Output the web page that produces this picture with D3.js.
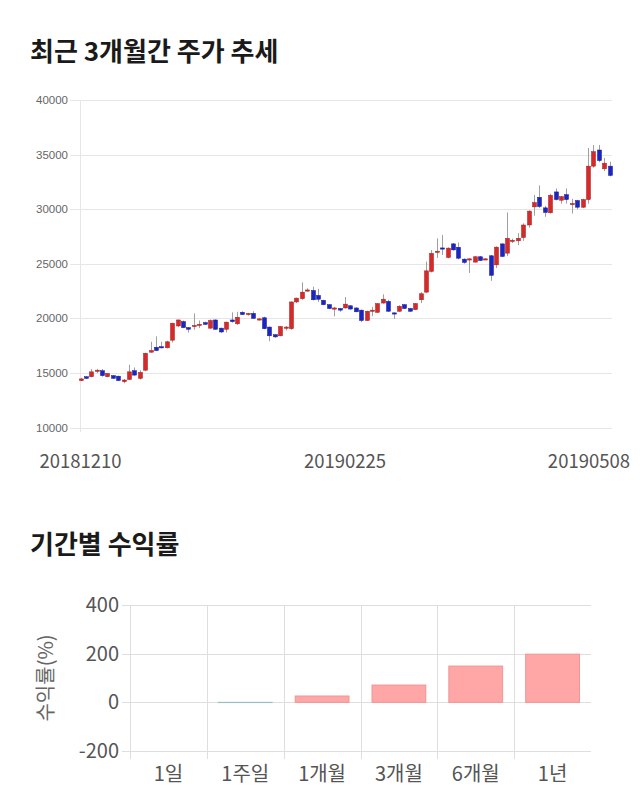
<!DOCTYPE html>
<html><head><meta charset="utf-8">
<script src="https://cdn.jsdelivr.net/npm/d3@7/dist/d3.min.js"></script>
<style>
html,body{margin:0;padding:0;background:#fff;}
svg{display:block;font-family:"Noto Sans CJK KR","Noto Sans",sans-serif;}
</style></head>
<body><svg id="c" width="640" height="810"></svg>
<script>
// ---------- data: candlestick (recent 3 months) ----------
const dates = [
"20181210","20181211","20181212","20181213","20181214","20181217","20181218","20181219","20181220","20181221","20181224","20181226","20181227","20181228",
"20190102","20190103","20190104","20190107","20190108","20190109","20190110","20190111","20190114","20190115","20190116","20190117","20190118","20190121","20190122","20190123","20190124","20190125","20190128","20190129","20190130","20190131",
"20190201","20190207","20190208","20190211","20190212","20190213","20190214","20190215","20190218","20190219","20190220","20190221","20190222","20190225","20190226","20190227","20190228",
"20190304","20190305","20190306","20190307","20190308","20190311","20190312","20190313","20190314","20190315","20190318","20190319","20190320","20190321","20190322","20190325","20190326","20190327","20190328","20190329",
"20190401","20190402","20190403","20190404","20190405","20190408","20190409","20190410","20190411","20190412","20190415","20190416","20190417","20190418","20190419","20190422","20190423","20190424","20190425","20190426","20190429","20190430",
"20190502","20190503","20190507","20190508"];
const opens = [14300,14650,14650,15200,15200,14650,14750,14700,14200,14400,
15200,14500,15250,16900,17350,17400,17300,18000,19300,19700,
19150,19300,19450,19600,19100,19850,19100,19000,19850,19500,
20550,20450,20450,19850,20050,19200,18500,18400,19150,19050,
21500,21800,22500,22550,22100,21650,21250,20850,20900,20950,
21150,20950,20750,19800,20650,20550,21400,21550,20500,20650,
21250,20900,20800,21700,22400,24300,26050,26450,25580,26820,
26510,25420,25350,25150,25640,25450,25730,24900,26820,25970,
27100,27100,27400,28550,30210,31090,30120,29670,31580,30820,
31330,30500,30790,30180,30880,33940,35420,33700,33940];
const highs = [14550,14700,15350,15370,15350,15000,14800,14750,14450,15750,
15500,15250,16850,17850,18350,17850,17950,19600,19900,19800,
19200,20450,19800,19700,19900,19900,19150,19700,20550,20600,
20650,20500,20650,20000,20150,19250,18550,19300,19300,21550,
21900,23300,22750,22900,22700,21700,21300,21050,20950,21950,
21200,21000,20800,20700,21050,21400,22200,21700,20550,21200,
21300,20950,21400,22400,25200,26250,27330,27640,26500,26900,
26950,25500,25500,25700,25700,25500,25800,26600,26850,29700,
27300,27800,28700,29900,31300,32180,30300,31400,31900,31200,
31900,30950,30850,30950,35600,35880,35880,34700,34350];
const lows = [14250,14450,14600,15000,14650,14600,14450,14250,14050,14350,
14750,14400,15150,16850,17000,17250,17250,17800,19200,19100,
18700,18950,19100,19400,19050,18950,18650,18700,19600,19400,
20300,20250,19950,19800,19000,17900,18200,18350,18900,18950,
21400,21700,22450,21650,21500,21200,20850,20180,20600,20900,
20800,20550,19650,19750,20200,20500,21350,20600,19950,20600,
20850,20600,20750,21400,22300,24200,25520,25800,25500,26200,
25400,25000,24150,25100,25250,25400,23430,24600,25600,25700,
26900,26700,27100,28300,29400,30100,29300,29600,30800,30500,
30500,29600,30000,30100,30500,33800,34300,33500,33000];
const closes = [14450,14500,15100,15250,14750,14950,14500,14300,14350,15100,
14800,15050,16800,17050,17050,17300,17850,19550,19850,19150,
19000,19350,19450,19450,19800,19000,18750,19650,19700,20100,
20350,20450,20000,19950,19050,18400,18300,19250,19200,21500,
21850,22400,22600,21700,21750,21250,20900,20950,20750,21300,
20850,20600,19800,20650,20750,21350,21750,20650,20400,21100,
20900,20650,21350,22250,24350,25950,26150,26350,26430,26270,
25510,25120,25450,25640,25300,25450,23940,26520,25670,27330,
27150,27330,28550,29820,30600,30240,29700,31270,30880,31150,
30880,30520,30180,30880,33940,35270,34450,34210,33090];
const priceTicks = [10000,15000,20000,25000,30000,35000,40000];
const dateTickLabels = ["20181210","20190225","20190508"];

// ---------- data: returns by period ----------
const periods = ["1일","1주일","1개월","3개월","6개월","1년"];
const returns = [0,-1,26,71,149,198];
const returnTicks = [-200,0,200,400];

const svg = d3.select("#c");
svg.append("rect").attr("width",640).attr("height",810).attr("fill","#fff");

// titles
svg.append("text").attr("x",30).attr("y",61).attr("font-size",26).attr("font-weight",700)
  .attr("fill","#1a1a1a").text("최근 3개월간 주가 추세");
svg.append("text").attr("x",30).attr("y",554).attr("font-size",26).attr("font-weight",700)
  .attr("fill","#1a1a1a").text("기간별 수익률");

// ---------- candlestick chart ----------
const cx = d3.scalePoint().domain(dates).range([80.5,609.5]);
const cy = d3.scaleLinear().domain([10000,40000]).range([427.5,100]);
const gTop = svg.append("g");
gTop.selectAll("line.grid").data(priceTicks).join("line").attr("class","grid")
  .attr("x1",70).attr("x2",612).attr("y1",d=>Math.round(cy(d))+0.5).attr("y2",d=>Math.round(cy(d))+0.5)
  .attr("stroke","#e6e6e6").attr("stroke-width",1);
gTop.append("line").attr("x1",80.5).attr("x2",80.5).attr("y1",100).attr("y2",432)
  .attr("stroke","#e6e6e6");
gTop.selectAll("text.pt").data(priceTicks).join("text").attr("class","pt")
  .attr("x",68).attr("y",d=>cy(d)).attr("dy","0.35em").attr("text-anchor","end")
  .attr("font-family","Liberation Sans, Arial, sans-serif")
  .attr("font-size",11.5).attr("fill","#666").text(d=>d);

const idx = d3.range(dates.length);
const candles = gTop.append("g");
candles.selectAll("line.wick").data(idx).join("line").attr("class","wick")
  .attr("x1",i=>Math.round(cx(dates[i]))+0.5).attr("x2",i=>Math.round(cx(dates[i]))+0.5)
  .attr("y1",i=>cy(highs[i])).attr("y2",i=>cy(lows[i]))
  .attr("stroke","#a0a0a0").attr("stroke-width",1);
candles.selectAll("rect.body").data(idx).join("rect").attr("class","body")
  .attr("x",i=>Math.round(cx(dates[i]))-1.5)
  .attr("width",4)
  .attr("y",i=>cy(Math.max(opens[i],closes[i])))
  .attr("height",i=>Math.max(1.2,Math.abs(cy(opens[i])-cy(closes[i]))))
  .attr("fill",i=>closes[i]>=opens[i]?"#d62a2a":"#1c25c4")
  .attr("stroke",i=>closes[i]>=opens[i]?"#a51d1d":"#141a94")
  .attr("stroke-width",0.5);

gTop.selectAll("text.dt").data(dateTickLabels).join("text").attr("class","dt")
  .attr("x",d=>cx(d)).attr("y",468).attr("text-anchor","middle")
  .attr("font-size",18.5).attr("fill","#555").text(d=>d)
  .each(function(){
    const w=this.getComputedTextLength();
    const x=+this.getAttribute("x");
    if(x+w/2>630) this.setAttribute("x",630-w/2);
    if(x-w/2<39) this.setAttribute("x",39+w/2);
  });

// ---------- returns bar chart ----------
const bx = d3.scaleBand().domain(periods).range([130,591]).paddingInner(0.3).paddingOuter(0.15);
const by = d3.scaleLinear().domain([-200,400]).range([751,605]);
const step = bx.step();
const gBot = svg.append("g");
gBot.selectAll("line.hg").data(returnTicks).join("line").attr("class","hg")
  .attr("x1",122).attr("x2",591).attr("y1",d=>Math.round(by(d))+0.5).attr("y2",d=>Math.round(by(d))+0.5)
  .attr("stroke","#dedede");
gBot.selectAll("line.vg").data(d3.range(periods.length)).join("line").attr("class","vg")
  .attr("x1",i=>Math.round(130+i*step)+0.5).attr("x2",i=>Math.round(130+i*step)+0.5)
  .attr("y1",605).attr("y2",759).attr("stroke","#dedede");
gBot.selectAll("rect.bar").data(periods).join("rect").attr("class","bar")
  .attr("x",d=>bx(d)).attr("width",bx.bandwidth())
  .attr("y",(d,i)=>by(Math.max(0,returns[i])))
  .attr("height",(d,i)=>Math.abs(by(returns[i])-by(0)))
  .attr("fill",(d,i)=>returns[i]>=0?"#ffa6a6":"#a8c8c8")
  .attr("stroke",(d,i)=>returns[i]>=0?"#f29494":"#9fbcbc").attr("stroke-width",1);
gBot.selectAll("text.yt").data(returnTicks).join("text").attr("class","yt")
  .attr("x",119).attr("y",d=>by(d)).attr("dy","0.35em").attr("text-anchor","end")
  .attr("font-size",20).attr("fill","#555").text(d=>d);
gBot.selectAll("text.xt").data(periods).join("text").attr("class","xt")
  .attr("x",d=>bx(d)+bx.bandwidth()/2).attr("y",781).attr("text-anchor","middle")
  .attr("font-size",20).attr("fill","#555").text(d=>d);
gBot.append("text").attr("transform","translate(53,678) rotate(-90)").attr("text-anchor","middle")
  .attr("font-size",20).attr("fill","#666").text("수익률(%)");
</script></body></html>
